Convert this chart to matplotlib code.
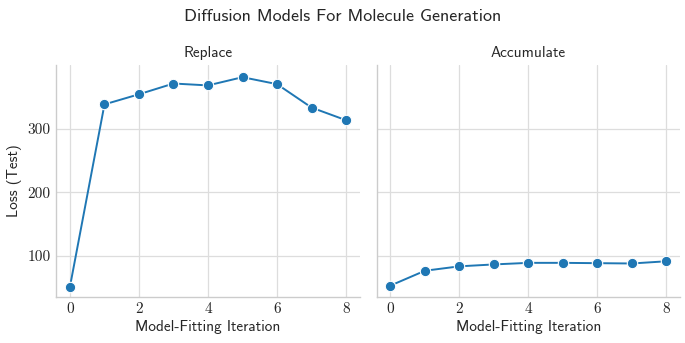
import matplotlib
matplotlib.use("Agg")
import matplotlib.pyplot as plt
import seaborn as sns

iterations = [0, 1, 2, 3, 4, 5, 6, 7, 8]
replace_loss = [51, 339, 355, 372, 369, 382, 371, 334, 314]
accumulate_loss = [52.5, 76, 83, 86, 88.5, 88.5, 88, 87.5, 91]
panel_titles = ["Replace", "Accumulate"]
xticks = [0, 2, 4, 6, 8]
yticks = [100, 200, 300]

sns.set_theme(style="whitegrid")
plt.rcParams['font.family'] = ['cmss10', 'DejaVu Sans']
plt.rcParams['axes.unicode_minus'] = False
plt.rcParams['axes.formatter.use_mathtext'] = False

fig, axes = plt.subplots(1, 2, figsize=(6.85, 3.43), dpi=100, sharey=True)
fig.subplots_adjust(left=0.082, right=0.993, bottom=0.135, top=0.81, wspace=0.055)

for ax, title, vals in zip(axes, panel_titles, [replace_loss, accumulate_loss]):
    ax.plot(iterations, vals, color='#1f77b4', marker='o', markersize=7.5,
            markeredgecolor='white', markeredgewidth=0.8, linewidth=1.4)
    ax.set_title(title, fontsize=11, family='cmss10')
    ax.set_xlabel("Model-Fitting Iteration", fontsize=11, family='cmss10', labelpad=3)
    ax.set_xticks(xticks)
    ax.set_xlim(-0.4, 8.4)
    for lab in ax.get_xticklabels() + ax.get_yticklabels():
        lab.set_family('cmr10')
        lab.set_fontsize(11)
    ax.grid(True, color='#dddddd', linewidth=0.9)
    for s in ['top', 'right']:
        ax.spines[s].set_visible(False)
    for s in ['left', 'bottom']:
        ax.spines[s].set_color('#cccccc')
        ax.spines[s].set_linewidth(1.0)
    ax.tick_params(axis='both', length=0, pad=4)

axes[0].set_yticks(yticks)
axes[0].set_ylim(35, 401)
for lab in axes[0].get_yticklabels():
    lab.set_family('cmr10')
    lab.set_fontsize(11)
axes[0].set_ylabel("Loss (Test)", fontsize=11, family='cmss10')
axes[1].tick_params(axis='y', labelleft=False)

fig.suptitle("Diffusion Models For Molecule Generation", fontsize=13, family='cmss10', y=0.975)
fig.savefig("out.png", dpi=100)
